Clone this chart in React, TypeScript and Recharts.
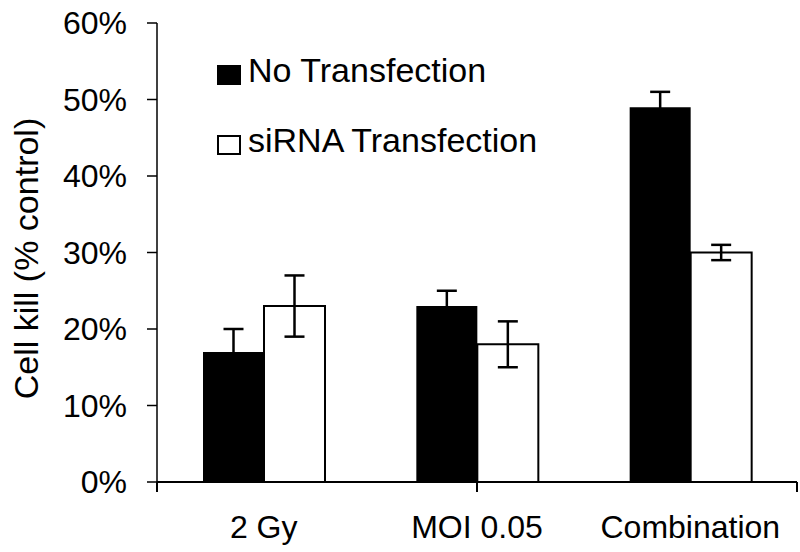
import { BarChart, Bar, XAxis, YAxis, ErrorBar, Legend } from 'recharts';

// valores (% de morte celular)
const categories = ['2 Gy', 'MOI 0.05', 'Combination'];
const noTransfection = [17, 23, 49];
const noTransfectionErr = [3, 2, 2];
const siRNA = [23, 18, 30];
const siRNAErr = [4, 3, 1];
const yTicks = [0, 10, 20, 30, 40, 50, 60];
const edgeTicks = [0, 1, 2, 3];

const FONT = '"Liberation Sans", Arial, sans-serif';

const data = categories.map((group, i) => ({
  group,
  no: noTransfection[i],
  noErr: noTransfectionErr[i],
  si: siRNA[i],
  siErr: siRNAErr[i],
}));

const series = [
  { key: 'no', name: 'No Transfection', fill: '#000' },
  { key: 'si', name: 'siRNA Transfection', fill: '#fff' },
];

const renderLegend = () => (
  <div style={{ fontFamily: FONT, fontSize: 34, lineHeight: '34px', color: '#000' }}>
    {series.map((s) => (
      <div key={s.key} style={{ display: 'flex', alignItems: 'flex-start', height: 70 }}>
        <div
          style={{
            boxSizing: 'border-box',
            width: 24,
            height: 20,
            marginTop: 12,
            marginRight: 7,
            background: s.fill,
            border: '2px solid #000',
          }}
        />
        <span style={{ whiteSpace: 'nowrap' }}>{s.name}</span>
      </div>
    ))}
  </div>
);

const YLabel = (props: any) => {
  const vb = props.viewBox || { x: 0, y: 0, height: 0 };
  const cy = vb.y + vb.height / 2 + 6;
  return (
    <text
      x={26}
      y={cy}
      transform={`rotate(-90, 26, ${cy})`}
      textAnchor="middle"
      dominantBaseline="central"
      fontFamily={FONT}
      fontSize={34}
      fill="#000"
    >
      Cell kill (% control)
    </text>
  );
};

// só os traços nas divisões das categorias
const EdgeTick = () => null;

export default function App() {
  return (
    <div style={{ position: 'absolute', left: 0, top: 0, background: '#fff' }}>
      <BarChart
        width={800}
        height={552}
        data={data}
        margin={{ top: 23, right: 3, left: 0, bottom: 0 }}
        barSize={61}
        barGap={0}
      >
        <XAxis
          xAxisId="base"
          type="number"
          domain={[0, 3]}
          ticks={edgeTicks}
          interval={0}
          allowDataOverflow
          height={1}
          tick={<EdgeTick />}
          tickSize={10}
          axisLine={{ stroke: '#000', strokeWidth: 2 }}
          tickLine={{ stroke: '#000', strokeWidth: 2 }}
        />
        <XAxis
          xAxisId="cat"
          dataKey="group"
          height={69}
          axisLine={false}
          tickLine={false}
          tickSize={0}
          tickMargin={32}
          tick={{ fill: '#000', fontSize: 32, fontFamily: FONT }}
        />
        <YAxis
          width={157}
          domain={[0, 60]}
          ticks={yTicks}
          tickFormatter={(v: number) => `${v}%`}
          tickSize={10}
          tickMargin={20}
          axisLine={{ stroke: '#000', strokeWidth: 1.5 }}
          tickLine={{ stroke: '#000', strokeWidth: 1.5 }}
          tick={{ fill: '#000', fontSize: 32, fontFamily: FONT }}
          label={<YLabel />}
        />
        <Legend
          layout="vertical"
          align="center"
          verticalAlign="middle"
          content={renderLegend}
          wrapperStyle={{ position: 'absolute', left: 217, top: 53, width: 'auto', height: 'auto' }}
        />
        <Bar xAxisId="cat" dataKey="no" name="No Transfection" fill="#000" isAnimationActive={false}>
          <ErrorBar dataKey="noErr" width={10} stroke="#000" strokeWidth={2.5} direction="y" />
        </Bar>
        <Bar
          xAxisId="cat"
          dataKey="si"
          name="siRNA Transfection"
          fill="#fff"
          stroke="#000"
          strokeWidth={2}
          isAnimationActive={false}
        >
          <ErrorBar dataKey="siErr" width={10} stroke="#000" strokeWidth={2.5} direction="y" />
        </Bar>
      </BarChart>
    </div>
  );
}
